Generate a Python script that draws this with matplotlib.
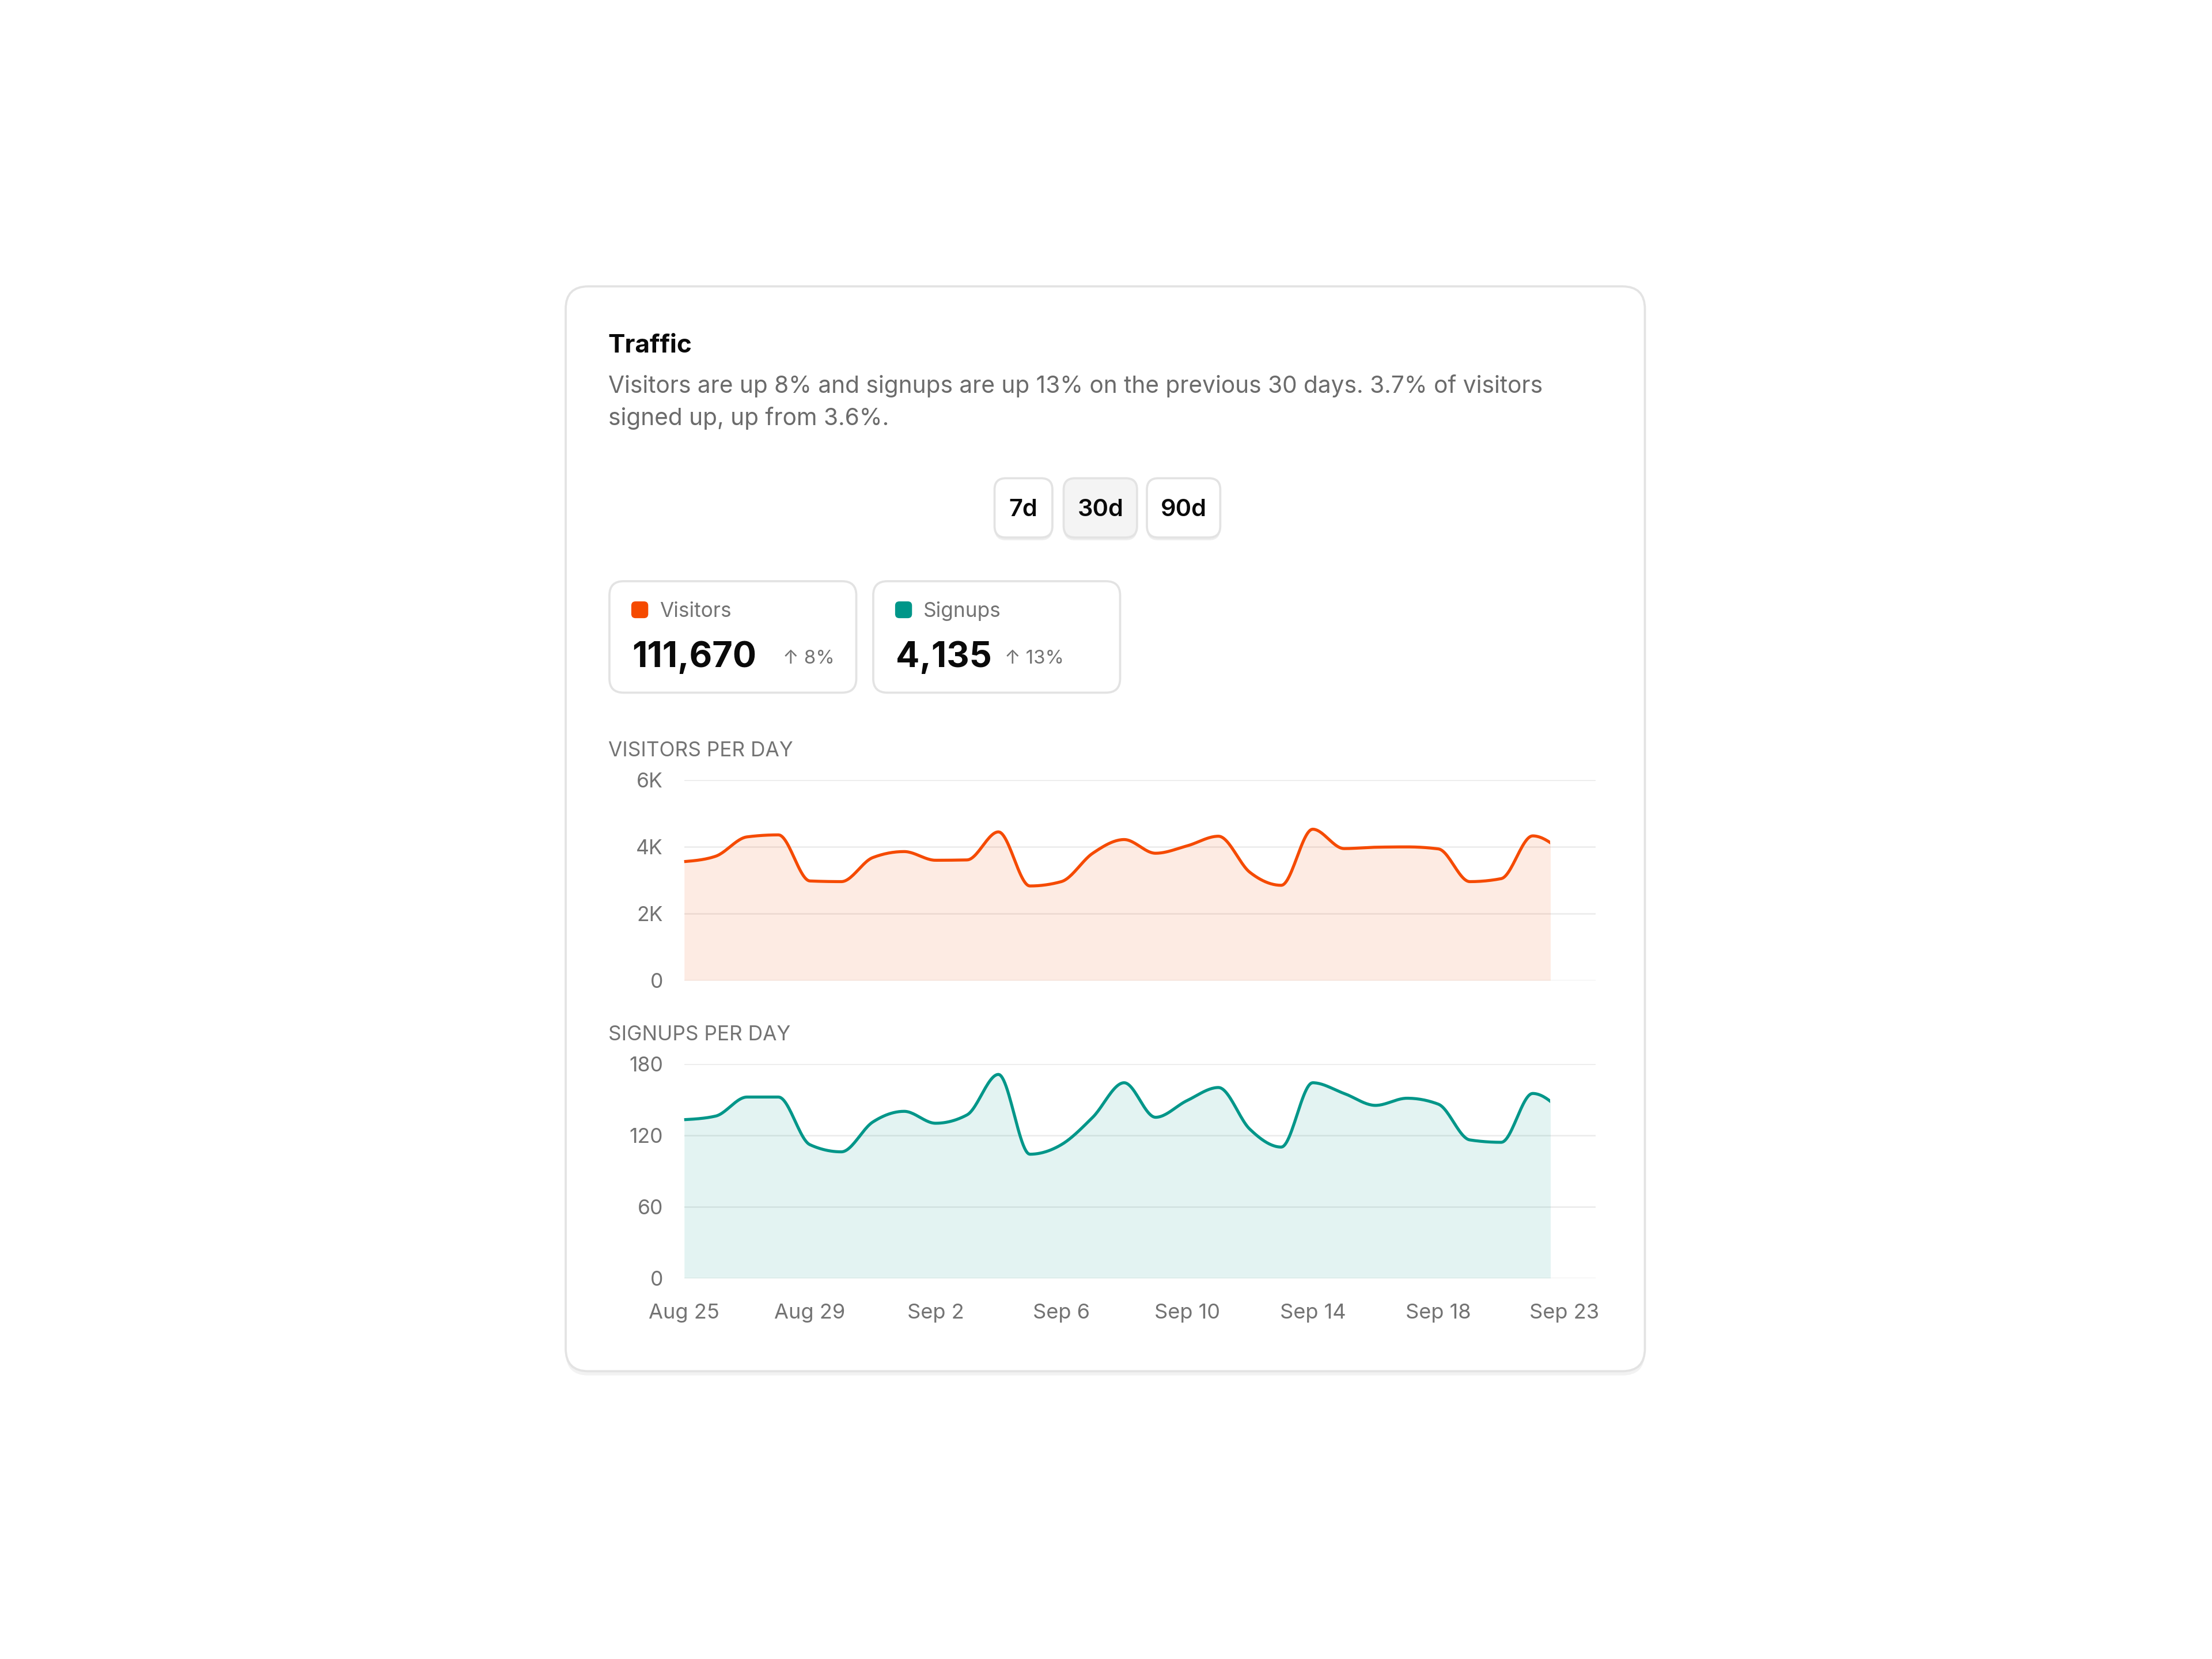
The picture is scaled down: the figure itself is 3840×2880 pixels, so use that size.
import numpy as np
import matplotlib
matplotlib.use('Agg')
import matplotlib.pyplot as plt
from matplotlib.patches import FancyBboxPatch, Rectangle

plt.rcParams['font.family'] = ['Inter', 'DejaVu Sans']

# daily values, Aug 25 .. Sep 22
visitors = [3560, 3720, 4300, 4360, 2980, 2960, 3680, 3860, 3600, 3610,
            4450, 2830, 2960, 3810, 4220, 3810, 4030, 4320, 3240, 2850,
            4530, 3950, 3990, 4000, 3940, 2960, 3050, 4330, 3800]
signups = [133, 136, 152, 152, 112, 106, 131, 140, 130, 137,
           171, 104, 112, 135, 164, 135, 149, 160, 125, 110,
           164, 155, 145, 151, 146, 116, 114, 155, 138]
x_labels = ['Aug 25', 'Aug 29', 'Sep 2', 'Sep 6', 'Sep 10', 'Sep 14', 'Sep 18', 'Sep 23']
visitor_ticks = [0, 2000, 4000, 6000]
visitor_ticklabels = ['0', '2K', '4K', '6K']
signup_ticks = [0, 60, 120, 180]

ORANGE = '#F54A00'
TEAL = '#009689'
GRAY = '#737373'
INK = '#0A0A0A'

# size conversion: the layout is measured in "screen px" of a 1568 wide view
PX = 0.5878  # points per screen px


def monotone(x, y, n=24):
    # d3 curveMonotoneX style smoothing through the points
    x = np.asarray(x, float)
    y = np.asarray(y, float)
    h = np.diff(x)
    s = np.diff(y) / h
    m = np.zeros_like(y)
    for i in range(1, len(y) - 1):
        p = (s[i - 1] * h[i] + s[i] * h[i - 1]) / (h[i - 1] + h[i])
        m[i] = (np.sign(s[i - 1]) + np.sign(s[i])) * min(abs(s[i - 1]), abs(s[i]), 0.5 * abs(p))
    m[0] = (3 * s[0] - m[1]) / 2
    m[-1] = (3 * s[-1] - m[-2]) / 2
    xs, ys = [], []
    for i in range(len(y) - 1):
        t = np.linspace(0, 1, n, endpoint=(i == len(y) - 2))
        h00 = 2 * t**3 - 3 * t**2 + 1
        h10 = t**3 - 2 * t**2 + t
        h01 = -2 * t**3 + 3 * t**2
        h11 = t**3 - t**2
        xs.append(x[i] + t * h[i])
        ys.append(h00 * y[i] + h10 * h[i] * m[i] + h01 * y[i + 1] + h11 * h[i] * m[i + 1])
    return np.concatenate(xs), np.concatenate(ys)


fig = plt.figure(figsize=(12.8, 9.6), dpi=300)
fig.patch.set_facecolor('white')

# overlay axes in screen px (y down)
bg = fig.add_axes([0, 0, 1, 1])
bg.set_xlim(0, 1568)
bg.set_ylim(1176, 0)
bg.axis('off')


def rbox(x0, y0, x1, y1, r, fc, ec, lw=0.9, z=1):
    p = FancyBboxPatch((x0, y0), x1 - x0, y1 - y0,
                       boxstyle='round,pad=0,rounding_size=%s' % r,
                       fc=fc, ec=ec, lw=lw, zorder=z)
    bg.add_patch(p)
    return p


# card + faint shadow
rbox(401, 205, 1166, 975, 16, '#F2F2F2', 'none', 0, 0)
rbox(401, 203, 1166, 972, 16, 'white', '#E3E3E3', 0.9, 1)

bg.text(431, 250, 'Traffic', fontsize=18 * PX, fontweight='bold', color=INK, va='baseline', zorder=3)
bg.text(431, 278.4, 'Visitors are up 8% and signups are up 13% on the previous 30 days. 3.7% of visitors',
        fontsize=16.6 * PX, color='#6B6B6B', va='baseline', zorder=3)
bg.text(431, 301.4, 'signed up, up from 3.6%.', fontsize=16.6 * PX, color='#6B6B6B', va='baseline', zorder=3)

# range buttons
buttons = [('7d', 705, 746, 'white'), ('30d', 754, 806, '#F4F4F4'), ('90d', 813, 865, 'white')]
for lab, bx0, bx1, fc in buttons:
    rbox(bx0, 341, bx1, 383, 8, '#EEEEEE', 'none', 0, 1)
    rbox(bx0, 339, bx1, 381, 8, fc, '#E3E3E3', 0.9, 2)
    bg.text((bx0 + bx1) / 2, 366, lab, fontsize=17 * PX, fontweight='semibold', color=INK,
            ha='center', va='baseline', zorder=3)

# stat cards
stats = [('Visitors', '111,670', '↑ 8%', ORANGE, 432, 607, 555),
         ('Signups', '4,135', '↑ 13%', TEAL, 619, 794, 712)]
for name, total, delta, col, cx0, cx1, dx in stats:
    rbox(cx0, 412, cx1, 491, 10, 'white', '#E3E3E3', 0.9, 2)
    rbox(cx0 + 15.5, 426.3, cx0 + 27.5, 438.2, 3, col, 'none', 0, 3)
    bg.text(cx0 + 35.5, 437.2, name, fontsize=14.4 * PX, color=GRAY, va='baseline', zorder=3)
    bg.text(cx0 + 16, 473, total, fontsize=25 * PX, fontweight='bold', color=INK, va='baseline', zorder=3)
    bg.text(dx, 470.5, delta, fontsize=13.5 * PX, color=GRAY, va='baseline', zorder=3)

bg.text(431, 536, 'VISITORS PER DAY', fontsize=14.4 * PX, color=GRAY, va='baseline', zorder=3)
bg.text(431, 737.4, 'SIGNUPS PER DAY', fontsize=14.4 * PX, color=GRAY, va='baseline', zorder=3)

# the two charts
left = 485 / 1568
width = 646 / 1568
ax1 = fig.add_axes([left, 1 - 695 / 1176, width, 142 / 1176])
ax2 = fig.add_axes([left, 1 - 906 / 1176, width, 152 / 1176])

day = np.arange(len(visitors))
cut = 27.55  # the drawn series stops a little short of the last point

for ax, vals, col, ticks, tlabels, top in [
        (ax1, visitors, ORANGE, visitor_ticks, visitor_ticklabels, 6000),
        (ax2, signups, TEAL, signup_ticks, [str(t) for t in signup_ticks], 180)]:
    ax.set_facecolor('none')
    xs, ys = monotone(day, vals)
    clip = Rectangle((-1, -top), cut + 1, 3 * top, transform=ax.transData)
    f = ax.fill_between(xs, ys, 0, color=col, alpha=0.11, lw=0, zorder=2)
    l, = ax.plot(xs, ys, color=col, lw=1.25, zorder=3, solid_capstyle='butt')
    f.set_clip_path(clip)
    l.set_clip_path(clip)
    ax.set_xlim(0, 29)
    ax.set_ylim(0, top)
    ax.set_yticks(ticks)
    ax.set_yticklabels(tlabels)
    for t in ticks:
        ax.axhline(t, color='#EBEBEB', lw=0.6, zorder=1)
    for s in ax.spines.values():
        s.set_visible(False)
    ax.tick_params(axis='y', length=0, pad=15 * PX, labelsize=14.5 * PX, labelcolor=GRAY)
    ax.tick_params(axis='x', length=0, pad=18 * PX, labelsize=14.8 * PX, labelcolor=GRAY)

ax1.set_xticks([])
ax2.set_xticks(np.linspace(0, 28, len(x_labels)))
ax2.set_xticklabels(x_labels)

fig.savefig('out.png', dpi=300, facecolor='white')
